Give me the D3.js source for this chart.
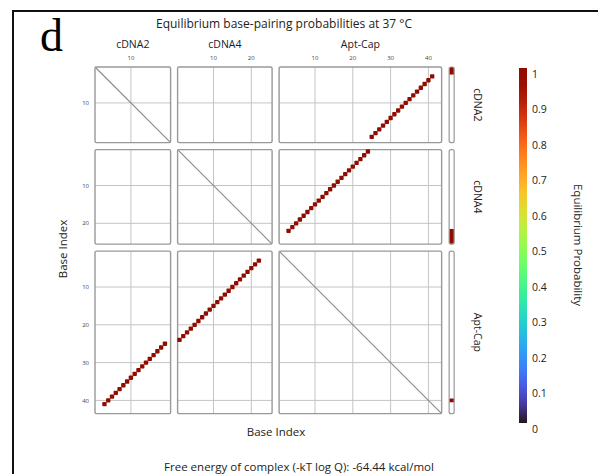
<!DOCTYPE html>
<html>
<head>
<meta charset="utf-8">
<script src="https://cdn.jsdelivr.net/npm/d3@7"></script>
<style>
  body { margin: 0; background: #fff; }
  text { font-family: "Open Sans", "Noto Sans", sans-serif; fill: #222; }
</style>
</head>
<body>
<svg id="chart"></svg>
<script>
// strands and their lengths (nt)
const strands = ["cDNA2", "cDNA4", "Apt-Cap"];
const lengths = [20, 25, 43];
const tickValues = [10, 20, 30, 40];

// base pairs
const cDNA2Bases   = [3, 4, 5, 6, 7, 8, 9, 10, 11, 12, 13, 14, 15, 16, 17, 18, 19];
const aptCapForC2  = [41, 40, 39, 38, 37, 36, 35, 34, 33, 32, 31, 30, 29, 28, 27, 26, 25];
const cDNA4Bases   = [1, 2, 3, 4, 5, 6, 7, 8, 9, 10, 11, 12, 13, 14, 15, 16, 17, 18, 19, 20, 21, 22];
const aptCapForC4  = [24, 23, 22, 21, 20, 19, 18, 17, 16, 15, 14, 13, 12, 11, 10, 9, 8, 7, 6, 5, 4, 3];
const pairProb = 1;

// unpaired probability blocks on the side bars
const unpairedCDNA2  = [1, 2];
const unpairedCDNA4  = [22, 23, 24, 25];
const unpairedAptCap = [40];
const unpairedProb = 1;

const colorTicks = [0, 0.1, 0.2, 0.3, 0.4, 0.5, 0.6, 0.7, 0.8, 0.9, 1];

const width = 598, height = 474;
const svg = d3.select("#chart").attr("width", width).attr("height", height);

const cell = 3.78, gap = 7, x0 = 95, y0 = 67;
let offsets = [], acc = 0;
lengths.forEach(n => { offsets.push(acc); acc += n * cell + gap; });

const xs = lengths.map((n, i) => d3.scaleLinear().domain([0.5, n + 0.5]).range([x0 + offsets[i], x0 + offsets[i] + n * cell]));
const ys = lengths.map((n, i) => d3.scaleLinear().domain([0.5, n + 0.5]).range([y0 + offsets[i], y0 + offsets[i] + n * cell]));

const color = d3.scaleSequential(d3.interpolateTurbo).domain([0, 1]);

// frame
svg.append("rect").attr("x", 13).attr("y", 11).attr("width", 700).attr("height", 600)
  .attr("fill", "none").attr("stroke", "#111").attr("stroke-width", 2);

svg.append("text").attr("x", 40).attr("y", 51)
  .style("font-family", "'Liberation Serif', 'DejaVu Serif', serif")
  .style("font-size", "46px").style("fill", "#000").text("d");

svg.append("text").attr("x", 284).attr("y", 28).attr("text-anchor", "middle")
  .style("font-size", "12px").text("Equilibrium base-pairing probabilities at 37 \u00B0C");

// panels
const panels = [];
strands.forEach((r, ri) => strands.forEach((c, ci) => panels.push({ ri, ci })));

const g = svg.selectAll(".panel").data(panels).join("g").attr("class", "panel");

g.each(function(d) {
  const p = d3.select(this);
  const x = xs[d.ci], y = ys[d.ri];
  const tx = tickValues.filter(t => t < lengths[d.ci]);
  const ty = tickValues.filter(t => t < lengths[d.ri]);
  p.selectAll(".vx").data(tx).join("line")
    .attr("x1", t => x(t)).attr("x2", t => x(t))
    .attr("y1", y.range()[0]).attr("y2", y.range()[1])
    .attr("stroke", "#c4c4c4").attr("stroke-width", 1);
  p.selectAll(".hy").data(ty).join("line")
    .attr("y1", t => y(t)).attr("y2", t => y(t))
    .attr("x1", x.range()[0]).attr("x2", x.range()[1])
    .attr("stroke", "#c4c4c4").attr("stroke-width", 1);
  if (d.ri === d.ci) {
    p.append("line")
      .attr("x1", x.range()[0]).attr("y1", y.range()[0])
      .attr("x2", x.range()[1]).attr("y2", y.range()[1])
      .attr("stroke", "#8a8a8a").attr("stroke-width", 1.1);
  }
  p.append("rect")
    .attr("x", x.range()[0]).attr("y", y.range()[0])
    .attr("width", x.range()[1] - x.range()[0]).attr("height", y.range()[1] - y.range()[0])
    .attr("rx", 1.5).attr("fill", "none").attr("stroke", "#999").attr("stroke-width", 1.4);
});

// pair dots (both halves of the symmetric matrix)
const pairs = [];
cDNA2Bases.forEach((b, i) => pairs.push({ sa: 0, a: b, sb: 2, b: aptCapForC2[i], p: pairProb }));
cDNA4Bases.forEach((b, i) => pairs.push({ sa: 1, a: b, sb: 2, b: aptCapForC4[i], p: pairProb }));
const dots = [];
pairs.forEach(d => {
  dots.push({ ri: d.sa, i: d.a, ci: d.sb, j: d.b, p: d.p });
  dots.push({ ri: d.sb, i: d.b, ci: d.sa, j: d.a, p: d.p });
});
const ds = cell * 1.15;
svg.selectAll(".dot").data(dots).join("rect").attr("class", "dot")
  .attr("x", d => xs[d.ci](d.j) - ds / 2)
  .attr("y", d => ys[d.ri](d.i) - ds / 2)
  .attr("width", ds).attr("height", ds).attr("rx", 0.8)
  .attr("fill", d => color(d.p));

// unpaired side bars
const unpaired = [unpairedCDNA2, unpairedCDNA4, unpairedAptCap];
const barX = xs[2].range()[1] + 7.5, barW = 5;
strands.forEach((s, ri) => {
  const y = ys[ri];
  const ext = d3.extent(unpaired[ri]);
  const b = svg.append("g");
  b.append("rect")
    .attr("x", barX).attr("width", barW)
    .attr("y", y(ext[0] - 0.5)).attr("height", y(ext[1] + 0.5) - y(ext[0] - 0.5))
    .attr("fill", color(unpairedProb));
  b.append("rect").attr("x", barX).attr("y", y.range()[0])
    .attr("width", barW).attr("height", y.range()[1] - y.range()[0])
    .attr("rx", 2).attr("fill", "none").attr("stroke", "#999").attr("stroke-width", 1.2);
  svg.append("text")
    .attr("transform", `translate(478,${(y.range()[0] + y.range()[1]) / 2}) rotate(90)`)
    .attr("text-anchor", "middle").attr("dy", "0.35em")
    .style("font-size", "10.5px").text(s);
});

// column labels and tick labels
strands.forEach((s, ci) => {
  const x = xs[ci];
  svg.append("text").attr("x", (x.range()[0] + x.range()[1]) / 2).attr("y", 48)
    .attr("text-anchor", "middle").style("font-size", "10.5px").text(s);
  svg.selectAll(null).data(tickValues.filter(t => t < lengths[ci])).join("text")
    .attr("x", t => x(t)).attr("y", 60).attr("text-anchor", "middle")
    .style("font-size", "6px").style("fill", "#444").text(t => t);
  const y = ys[ci];
  svg.selectAll(null).data(tickValues.filter(t => t < lengths[ci])).join("text")
    .attr("x", 89).attr("y", t => y(t)).attr("dy", "0.35em").attr("text-anchor", "end")
    .style("font-size", "6px").style("fill", "#444").text(t => t);
});

// axis titles
svg.append("text").attr("x", 276).attr("y", 436).attr("text-anchor", "middle")
  .style("font-size", "11.5px").text("Base Index");
svg.append("text").attr("transform", "translate(63,249) rotate(-90)")
  .attr("text-anchor", "middle").attr("dy", "0.35em")
  .style("font-size", "11.5px").text("Base Index");
svg.append("text").attr("x", 299).attr("y", 471).attr("text-anchor", "middle")
  .style("font-size", "11.5px").text("Free energy of complex (-kT log Q): -64.44 kcal/mol");

// colour bar
const cy = d3.scaleLinear().domain([0, 1]).range([423, 68]);
const grad = svg.append("defs").append("linearGradient").attr("id", "cbar")
  .attr("x1", 0).attr("y1", 1).attr("x2", 0).attr("y2", 0);
grad.selectAll("stop").data(d3.range(0, 1.0001, 0.05)).join("stop")
  .attr("offset", d => d).attr("stop-color", d => color(d));
svg.append("rect").attr("x", 519).attr("y", cy(1)).attr("width", 8)
  .attr("height", cy(0) - cy(1)).attr("fill", "url(#cbar)");
svg.selectAll(".ctick").data(colorTicks).join("text").attr("class", "ctick")
  .attr("x", 532).attr("y", d => cy(d) + 6).attr("dy", "0.35em")
  .style("font-size", "10.5px").text(d => +d.toFixed(1));
svg.append("text").attr("transform", "translate(578,245) rotate(90)")
  .attr("text-anchor", "middle").attr("dy", "0.35em")
  .style("font-size", "11.5px").text("Equilibrium Probability");
</script>
</body>
</html>
